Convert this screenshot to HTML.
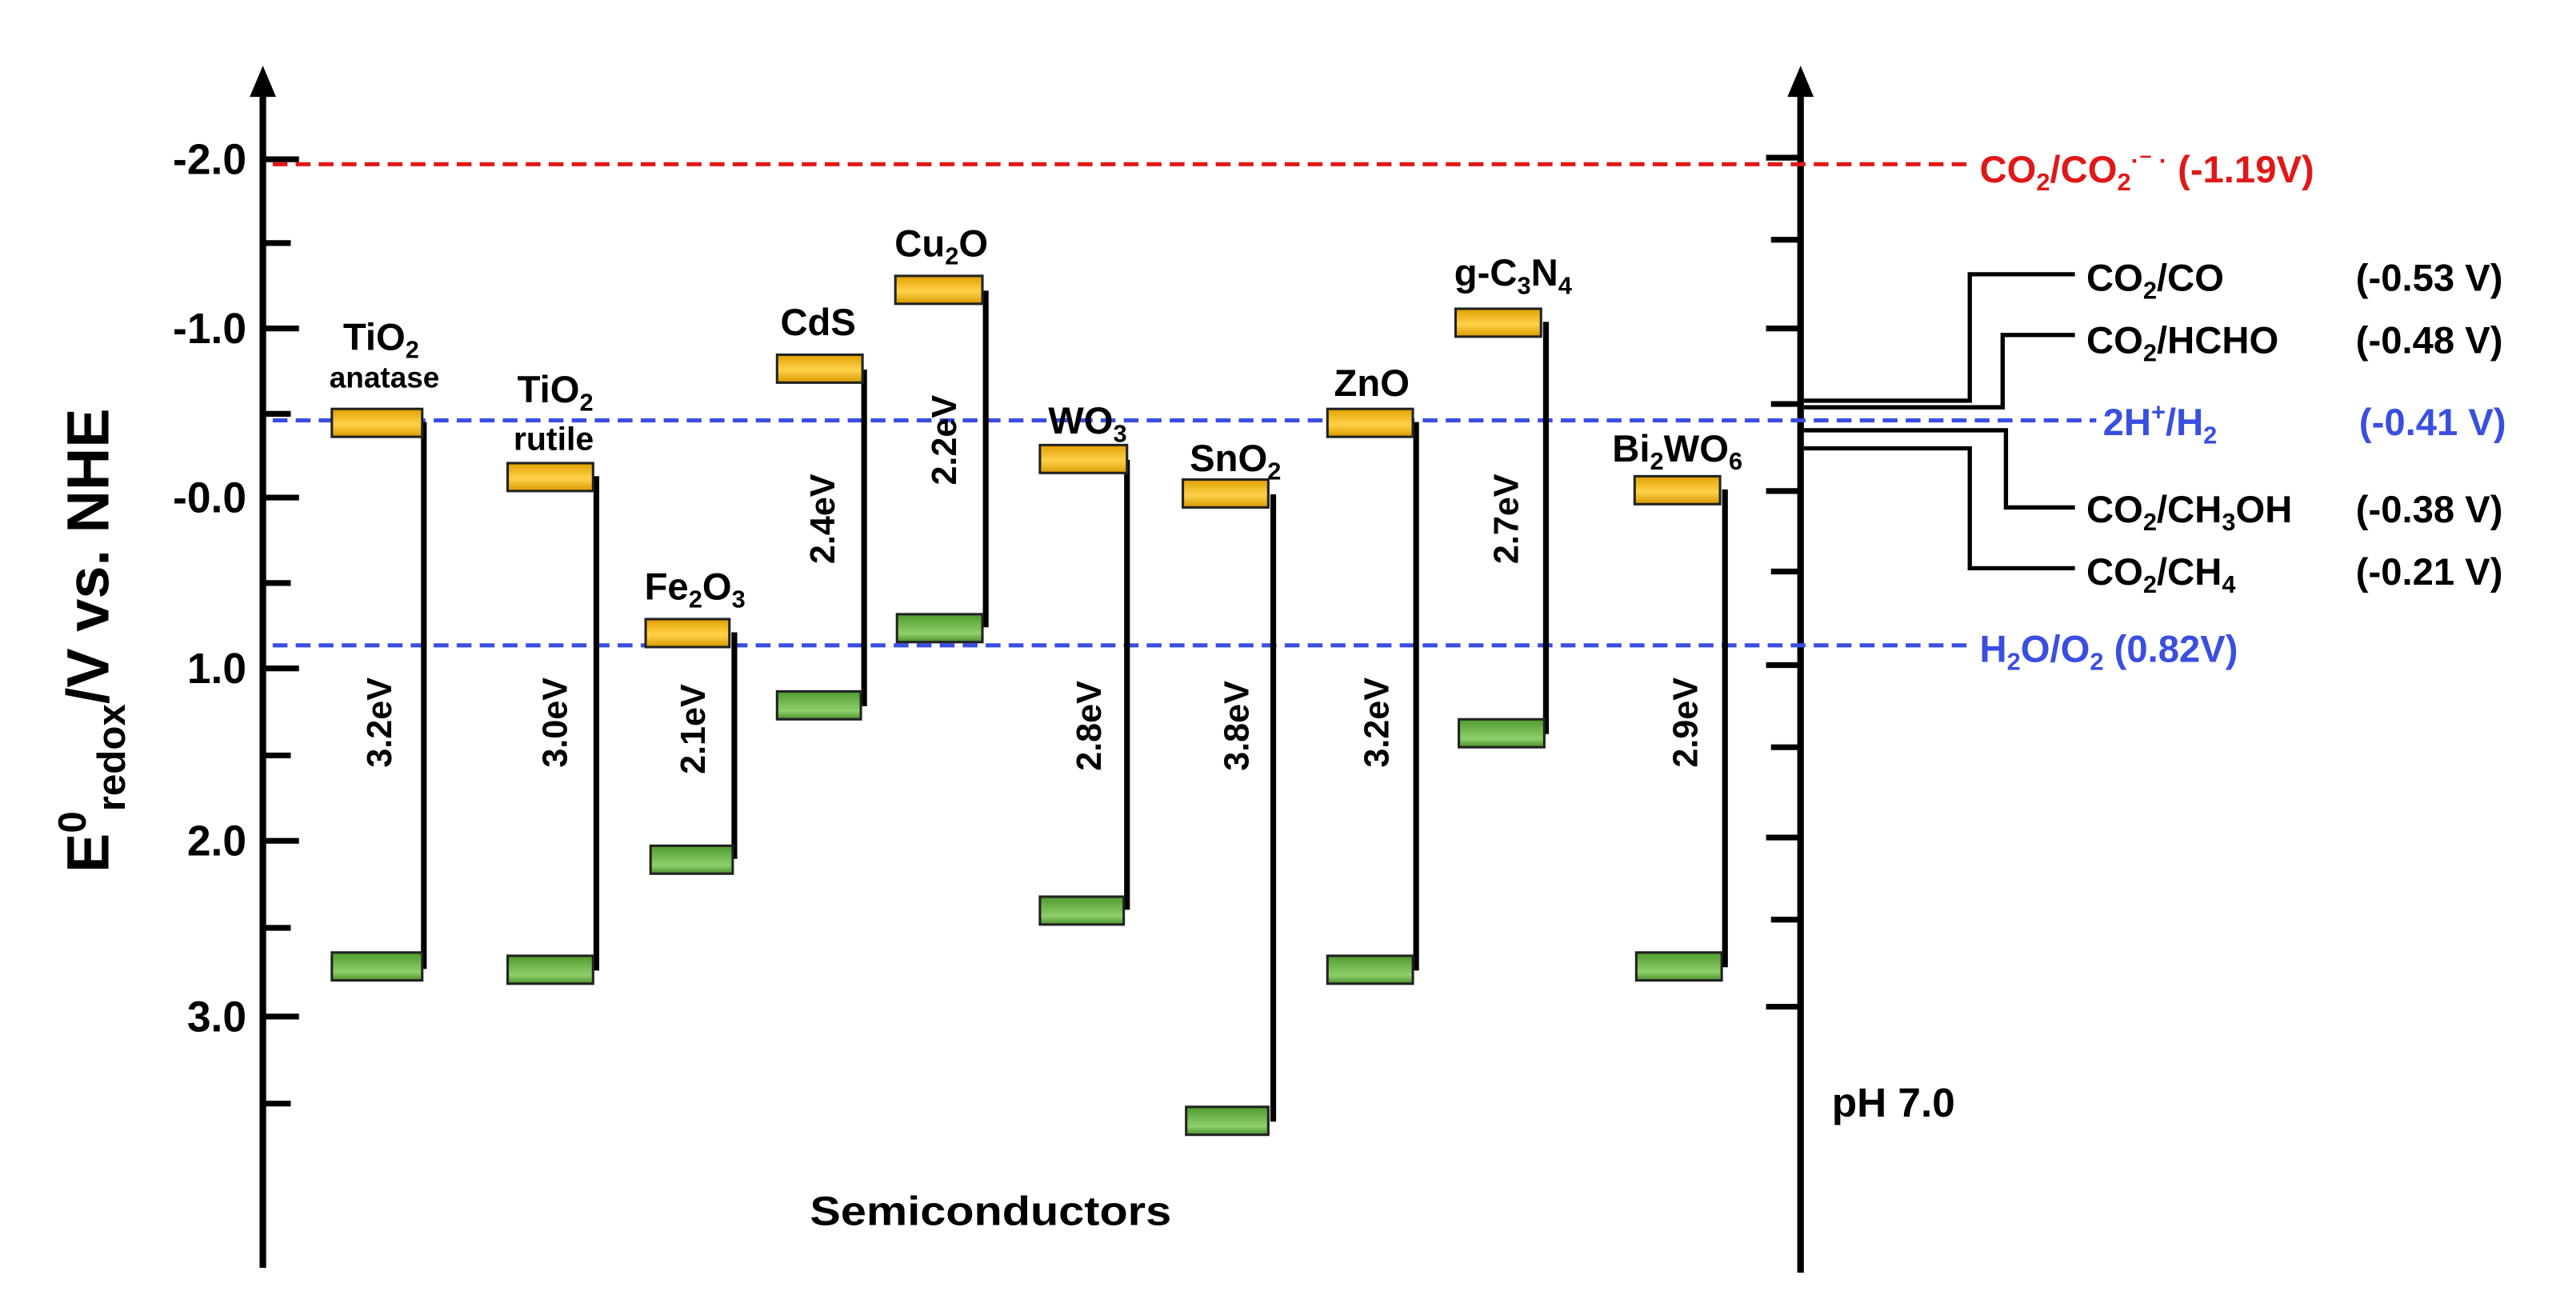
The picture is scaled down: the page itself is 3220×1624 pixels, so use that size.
<!DOCTYPE html>
<html><head><meta charset="utf-8"><style>html,body{margin:0;padding:0;background:#fff}svg{display:block}</style></head>
<body>
<svg width="3220" height="1624" viewBox="0 0 1568 791" preserveAspectRatio="none" xmlns="http://www.w3.org/2000/svg" font-family="Liberation Sans, sans-serif">
<defs>
<linearGradient id="y" x1="0" y1="0" x2="0" y2="1"><stop offset="0" stop-color="#e0a000"/><stop offset="0.55" stop-color="#ffd24a"/><stop offset="1" stop-color="#d99a00"/></linearGradient>
<linearGradient id="g" x1="0" y1="0" x2="0" y2="1"><stop offset="0" stop-color="#4e9a2e"/><stop offset="0.7" stop-color="#8fd06a"/><stop offset="1" stop-color="#4a8f2a"/></linearGradient>
</defs>
<rect width="1568" height="791" fill="#fff"/>
<g stroke="#000" stroke-width="4">
<line x1="160" y1="52" x2="160" y2="772"/>
<line x1="1096" y1="52" x2="1096" y2="775"/>
</g>
<polygon points="160,40 152,59 168,59" fill="#000"/>
<polygon points="1096,40 1088,59 1104,59" fill="#000"/>
<g stroke="#000" stroke-width="3.5">
<line x1="160" y1="97" x2="182" y2="97"/><line x1="160" y1="148" x2="177" y2="148"/>
<line x1="160" y1="200" x2="182" y2="200"/><line x1="160" y1="252" x2="177" y2="252"/>
<line x1="160" y1="303" x2="182" y2="303"/><line x1="160" y1="355" x2="177" y2="355"/>
<line x1="160" y1="407" x2="182" y2="407"/><line x1="160" y1="460" x2="177" y2="460"/>
<line x1="160" y1="512" x2="182" y2="512"/><line x1="160" y1="565" x2="177" y2="565"/>
<line x1="160" y1="619" x2="182" y2="619"/><line x1="160" y1="672" x2="177" y2="672"/>
<line x1="1075" y1="96" x2="1096" y2="96"/><line x1="1078" y1="146" x2="1096" y2="146"/>
<line x1="1075" y1="200" x2="1096" y2="200"/><line x1="1078" y1="246" x2="1096" y2="246"/>
<line x1="1075" y1="299" x2="1096" y2="299"/><line x1="1078" y1="348" x2="1096" y2="348"/>
<line x1="1075" y1="405" x2="1096" y2="405"/><line x1="1078" y1="455" x2="1096" y2="455"/>
<line x1="1075" y1="510" x2="1096" y2="510"/><line x1="1078" y1="560" x2="1096" y2="560"/>
<line x1="1075" y1="613" x2="1096" y2="613"/>
</g>
<g font-size="26" font-weight="bold" text-anchor="end">
<text x="150" y="106">-2.0</text><text x="150" y="209">-1.0</text><text x="150" y="312">-0.0</text>
<text x="150" y="416">1.0</text><text x="150" y="521">2.0</text><text x="150" y="628">3.0</text>
</g>
<text transform="translate(66,390) rotate(-90)" font-size="36" font-weight="bold" text-anchor="middle">E<tspan font-size="24" dy="-14">0</tspan><tspan font-size="24" dy="24">redox</tspan><tspan dy="-10">/V vs. NHE</tspan></text>
<g stroke-width="2.5" stroke-dasharray="9,5" fill="none">
<line x1="166" y1="100" x2="1200" y2="100" stroke="#e01818"/>
<line x1="166" y1="256" x2="1276" y2="256" stroke="#3a4ee0"/>
<line x1="166" y1="393" x2="1200" y2="393" stroke="#3a4ee0"/>
</g>
<text x="1205" y="111" fill="#e01818" font-size="23" font-weight="bold">CO<tspan font-size="15" dy="5">2</tspan><tspan dy="-5">/CO</tspan><tspan font-size="15" dy="5">2</tspan><tspan font-size="15" dy="-13">·⁻ ·</tspan><tspan dy="8"> (-1.19V)</tspan></text>
<text x="1280" y="265" fill="#3a4ee0" font-size="23" font-weight="bold">2H<tspan font-size="15" dy="-9">+</tspan><tspan dy="9">/H</tspan><tspan font-size="15" dy="5">2</tspan></text>
<text x="1436" y="265" fill="#3a4ee0" font-size="23" font-weight="bold">(-0.41 V)</text>
<text x="1205" y="403" fill="#3a4ee0" font-size="23" font-weight="bold">H<tspan font-size="15" dy="5">2</tspan><tspan dy="-5">O/O</tspan><tspan font-size="15" dy="5">2</tspan><tspan dy="-5"> (0.82V)</tspan></text>
<g stroke="#000" stroke-width="2.6" fill="none">
<polyline points="1098,244 1199,244 1199,167 1263,167"/>
<polyline points="1098,248 1219,248 1219,204 1263,204"/>
<polyline points="1098,262 1221,262 1221,309 1263,309"/>
<polyline points="1098,273 1199,273 1199,346 1263,346"/>
</g>
<g font-size="23" font-weight="bold">
<text x="1270" y="177">CO<tspan font-size="15" dy="5">2</tspan><tspan dy="-5">/CO</tspan></text>
<text x="1270" y="215">CO<tspan font-size="15" dy="5">2</tspan><tspan dy="-5">/HCHO</tspan></text>
<text x="1270" y="318">CO<tspan font-size="15" dy="5">2</tspan><tspan dy="-5">/CH</tspan><tspan font-size="15" dy="5">3</tspan><tspan dy="-5">OH</tspan></text>
<text x="1270" y="356">CO<tspan font-size="15" dy="5">2</tspan><tspan dy="-5">/CH</tspan><tspan font-size="15" dy="5">4</tspan></text>
<text x="1434" y="177">(-0.53 V)</text>
<text x="1434" y="215">(-0.48 V)</text>
<text x="1434" y="318">(-0.38 V)</text>
<text x="1434" y="356">(-0.21 V)</text>
</g>
<g stroke="#000" stroke-width="3.5">
<line x1="258" y1="257" x2="258" y2="590"/>
<line x1="363" y1="290" x2="363" y2="591"/>
<line x1="447" y1="385" x2="447" y2="523"/>
<line x1="526" y1="225" x2="526" y2="430"/>
<line x1="600" y1="177" x2="600" y2="382"/>
<line x1="686" y1="280" x2="686" y2="554"/>
<line x1="775" y1="301" x2="775" y2="683"/>
<line x1="862" y1="257" x2="862" y2="591"/>
<line x1="941" y1="196" x2="941" y2="447"/>
<line x1="1050" y1="298" x2="1050" y2="589"/>
</g>
<g stroke="#222" stroke-width="1.5">
<rect x="202" y="249" width="55" height="17" fill="url(#y)"/>
<rect x="202" y="580" width="55" height="17" fill="url(#g)"/>
<rect x="309" y="282" width="52" height="17" fill="url(#y)"/>
<rect x="309" y="582" width="52" height="17" fill="url(#g)"/>
<rect x="393" y="377" width="51" height="17" fill="url(#y)"/>
<rect x="396" y="515" width="50" height="17" fill="url(#g)"/>
<rect x="473" y="216" width="52" height="17" fill="url(#y)"/>
<rect x="473" y="421" width="51" height="17" fill="url(#g)"/>
<rect x="545" y="168" width="53" height="17" fill="url(#y)"/>
<rect x="546" y="374" width="52" height="17" fill="url(#g)"/>
<rect x="633" y="271" width="53" height="17" fill="url(#y)"/>
<rect x="633" y="546" width="51" height="17" fill="url(#g)"/>
<rect x="720" y="292" width="52" height="17" fill="url(#y)"/>
<rect x="722" y="674" width="50" height="17" fill="url(#g)"/>
<rect x="808" y="249" width="52" height="17" fill="url(#y)"/>
<rect x="808" y="582" width="52" height="17" fill="url(#g)"/>
<rect x="886" y="188" width="52" height="17" fill="url(#y)"/>
<rect x="888" y="438" width="52" height="17" fill="url(#g)"/>
<rect x="995" y="290" width="52" height="17" fill="url(#y)"/>
<rect x="996" y="580" width="52" height="17" fill="url(#g)"/>
</g>
<g font-size="23" font-weight="bold" text-anchor="middle">
<text x="232" y="213">TiO<tspan font-size="15" dy="5">2</tspan></text>
<text x="234" y="236" font-size="18">anatase</text>
<text x="338" y="245">TiO<tspan font-size="15" dy="5">2</tspan></text>
<text x="337" y="274" font-size="20">rutile</text>
<text x="423" y="365">Fe<tspan font-size="15" dy="5">2</tspan><tspan dy="-5">O</tspan><tspan font-size="15" dy="5">3</tspan></text>
<text x="498" y="204">CdS</text>
<text x="573" y="156">Cu<tspan font-size="15" dy="5">2</tspan><tspan dy="-5">O</tspan></text>
<text x="662" y="264">WO<tspan font-size="15" dy="5">3</tspan></text>
<text x="752" y="287">SnO<tspan font-size="15" dy="5">2</tspan></text>
<text x="835" y="241">ZnO</text>
<text x="921" y="174">g-C<tspan font-size="15" dy="5">3</tspan><tspan dy="-5">N</tspan><tspan font-size="15" dy="5">4</tspan></text>
<text x="1021" y="281">Bi<tspan font-size="15" dy="5">2</tspan><tspan dy="-5">WO</tspan><tspan font-size="15" dy="5">6</tspan></text>
</g>
<g font-size="21" font-weight="bold" text-anchor="middle">
<text transform="translate(238,440) rotate(-90)">3.2eV</text>
<text transform="translate(345,440) rotate(-90)">3.0eV</text>
<text transform="translate(429,444) rotate(-90)">2.1eV</text>
<text transform="translate(508,316) rotate(-90)">2.4eV</text>
<text transform="translate(582,268) rotate(-90)">2.2eV</text>
<text transform="translate(670,442) rotate(-90)">2.8eV</text>
<text transform="translate(760,442) rotate(-90)">3.8eV</text>
<text transform="translate(845,440) rotate(-90)">3.2eV</text>
<text transform="translate(924,316) rotate(-90)">2.7eV</text>
<text transform="translate(1033,440) rotate(-90)">2.9eV</text>
</g>
<text x="603" y="746" font-size="25" font-weight="bold" text-anchor="middle" textLength="220" lengthAdjust="spacingAndGlyphs">Semiconductors</text>
<text x="1115" y="680" font-size="25" font-weight="bold">pH 7.0</text>
</svg>
</body></html>
